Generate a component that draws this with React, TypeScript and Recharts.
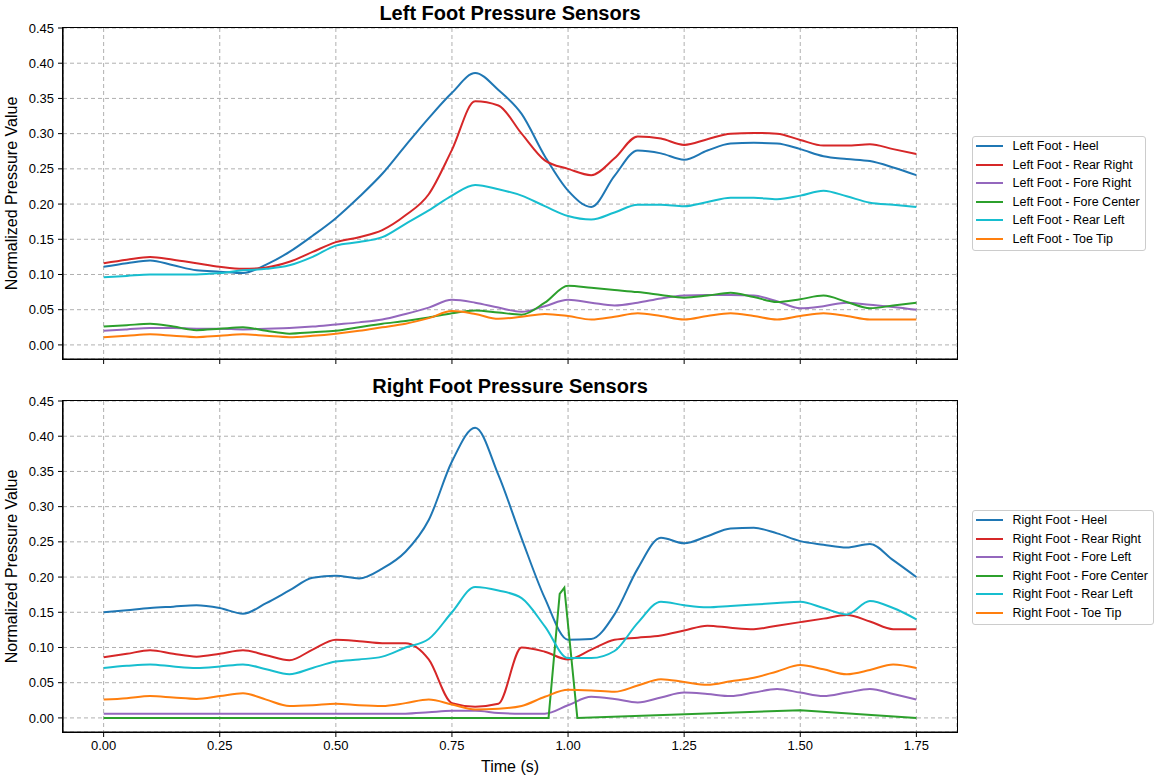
import React from "react";
import { LineChart, Line, XAxis, YAxis, CartesianGrid } from "recharts";

const FONT = '"Liberation Sans", Arial, Helvetica, sans-serif';

// shared sample times (s)
const TIME = [
  0, 0.05, 0.1, 0.15, 0.2, 0.25, 0.3, 0.35, 0.4, 0.45, 0.5, 0.55, 0.6, 0.65, 0.7, 0.75, 0.8, 0.85,
  0.9, 0.95, 1.0, 1.05, 1.1, 1.15, 1.2, 1.25, 1.3, 1.35, 1.4, 1.45, 1.5, 1.55, 1.6, 1.65, 1.7, 1.75,
];

// left foot
const LEFT_HEEL = [
  0.111, 0.116, 0.12, 0.113, 0.106, 0.104, 0.102, 0.114, 0.132, 0.155, 0.18, 0.21, 0.243, 0.283, 0.322, 0.358, 0.386, 0.362,
  0.328, 0.268, 0.219, 0.196, 0.24, 0.276, 0.272, 0.263, 0.276, 0.286, 0.287, 0.286, 0.278, 0.268, 0.264, 0.261, 0.252, 0.241,
];
const LEFT_REAR_RIGHT = [
  0.116, 0.121, 0.125, 0.121, 0.116, 0.111, 0.108, 0.11, 0.118, 0.132, 0.146, 0.153, 0.163, 0.184, 0.214, 0.277, 0.346, 0.34,
  0.3, 0.262, 0.25, 0.241, 0.265, 0.296, 0.293, 0.284, 0.292, 0.3, 0.301, 0.3, 0.291, 0.283, 0.283, 0.285, 0.278, 0.271,
];
const LEFT_FORE_RIGHT = [
  0.02, 0.022, 0.024, 0.024, 0.023, 0.023, 0.022, 0.023, 0.024, 0.026, 0.029, 0.032, 0.036, 0.044, 0.053, 0.064, 0.06, 0.053,
  0.047, 0.055, 0.064, 0.06, 0.056, 0.06, 0.066, 0.07, 0.071, 0.071, 0.07, 0.062, 0.052, 0.055, 0.06, 0.057, 0.054, 0.05,
];
const LEFT_FORE_CENTER = [
  0.026, 0.028, 0.03, 0.026, 0.021, 0.023, 0.025, 0.02, 0.016, 0.018, 0.02, 0.025, 0.03, 0.034, 0.039, 0.045, 0.049, 0.046,
  0.043, 0.06, 0.084, 0.081, 0.078, 0.075, 0.071, 0.067, 0.07, 0.074, 0.068, 0.061, 0.065, 0.07, 0.061, 0.052, 0.056, 0.06,
];
const LEFT_REAR_LEFT = [
  0.096, 0.098, 0.1, 0.1, 0.1, 0.102, 0.106, 0.108, 0.113, 0.125, 0.141, 0.146, 0.153, 0.172, 0.191, 0.212, 0.227, 0.221,
  0.212, 0.197, 0.183, 0.178, 0.188, 0.199, 0.199, 0.197, 0.203, 0.209, 0.209, 0.207, 0.212, 0.219, 0.211, 0.202, 0.199, 0.196,
];
const LEFT_TOE_TIP = [
  0.011, 0.013, 0.015, 0.013, 0.011, 0.013, 0.015, 0.013, 0.011, 0.013, 0.016, 0.02, 0.025, 0.03, 0.038, 0.048, 0.044, 0.037,
  0.04, 0.044, 0.041, 0.036, 0.04, 0.045, 0.041, 0.036, 0.041, 0.045, 0.041, 0.036, 0.041, 0.045, 0.041, 0.036, 0.036, 0.036,
];

// right foot
const RIGHT_HEEL = [
  0.15, 0.153, 0.156, 0.158, 0.16, 0.156, 0.148, 0.163, 0.181, 0.199, 0.202, 0.198, 0.212, 0.236, 0.281, 0.364, 0.412, 0.345,
  0.255, 0.17, 0.111, 0.112, 0.147, 0.212, 0.256, 0.248, 0.258, 0.269, 0.27, 0.262, 0.251, 0.246, 0.242, 0.247, 0.224, 0.2,
];
const RIGHT_REAR_RIGHT = [
  0.086, 0.091, 0.096, 0.091, 0.087, 0.091, 0.096, 0.089, 0.082, 0.097, 0.111, 0.109, 0.106, 0.106, 0.083, 0.021, 0.016, 0.02,
  0.1, 0.094, 0.083, 0.097, 0.111, 0.114, 0.117, 0.124, 0.131, 0.128, 0.126, 0.131, 0.136, 0.141, 0.146, 0.137, 0.126, 0.126,
];
const RIGHT_FORE_LEFT = [
  0.006, 0.006, 0.006, 0.006, 0.006, 0.006, 0.006, 0.006, 0.006, 0.006, 0.006, 0.006, 0.006, 0.006, 0.008, 0.01, 0.01, 0.007,
  0.006, 0.006, 0.018, 0.03, 0.027, 0.022, 0.029, 0.036, 0.034, 0.031, 0.036, 0.041, 0.036, 0.031, 0.036, 0.041, 0.034, 0.026,
];
const RIGHT_FORE_CENTER_TIME = [0, 0.958, 0.982, 0.992, 1.02, 1.5, 1.75];
const RIGHT_FORE_CENTER = [0, 0, 0.176, 0.185, 0, 0.011, 0];
const RIGHT_REAR_LEFT = [
  0.071, 0.074, 0.076, 0.073, 0.071, 0.073, 0.076, 0.069, 0.062, 0.071, 0.08, 0.083, 0.087, 0.1, 0.112, 0.15, 0.186, 0.181,
  0.17, 0.13, 0.085, 0.085, 0.095, 0.135, 0.165, 0.16, 0.157, 0.159, 0.161, 0.163, 0.165, 0.156, 0.147, 0.166, 0.156, 0.14,
];
const RIGHT_TOE_TIP = [
  0.026, 0.028, 0.031, 0.029, 0.027, 0.031, 0.035, 0.026, 0.017, 0.018, 0.02, 0.018, 0.017, 0.021, 0.026, 0.019, 0.012, 0.013,
  0.017, 0.03, 0.04, 0.039, 0.037, 0.046, 0.055, 0.051, 0.047, 0.052, 0.057, 0.066, 0.075, 0.069, 0.062, 0.068, 0.076, 0.071,
];

const X_TICKS = [0, 0.25, 0.5, 0.75, 1.0, 1.25, 1.5, 1.75];
const Y_TICKS = [0, 0.05, 0.1, 0.15, 0.2, 0.25, 0.3, 0.35, 0.4, 0.45];
const X_DOMAIN: [number, number] = [-0.0875, 1.8375];
const Y_DOMAIN: [number, number] = [-0.02, 0.45];

type Series = { name: string; color: string; times: number[]; values: number[]; linear?: boolean };

const LEFT_SERIES: Series[] = [
  { name: "Left Foot - Heel", color: "#1f77b4", times: TIME, values: LEFT_HEEL },
  { name: "Left Foot - Rear Right", color: "#d62728", times: TIME, values: LEFT_REAR_RIGHT },
  { name: "Left Foot - Fore Right", color: "#9467bd", times: TIME, values: LEFT_FORE_RIGHT },
  { name: "Left Foot - Fore Center", color: "#2ca02c", times: TIME, values: LEFT_FORE_CENTER },
  { name: "Left Foot - Rear Left", color: "#17becf", times: TIME, values: LEFT_REAR_LEFT },
  { name: "Left Foot - Toe Tip", color: "#ff7f0e", times: TIME, values: LEFT_TOE_TIP },
];

const RIGHT_SERIES: Series[] = [
  { name: "Right Foot - Heel", color: "#1f77b4", times: TIME, values: RIGHT_HEEL },
  { name: "Right Foot - Rear Right", color: "#d62728", times: TIME, values: RIGHT_REAR_RIGHT },
  { name: "Right Foot - Fore Left", color: "#9467bd", times: TIME, values: RIGHT_FORE_LEFT },
  {
    name: "Right Foot - Fore Center",
    color: "#2ca02c",
    times: RIGHT_FORE_CENTER_TIME,
    values: RIGHT_FORE_CENTER,
    linear: true,
  },
  { name: "Right Foot - Rear Left", color: "#17becf", times: TIME, values: RIGHT_REAR_LEFT },
  { name: "Right Foot - Toe Tip", color: "#ff7f0e", times: TIME, values: RIGHT_TOE_TIP },
];

const toPoints = (times: number[], values: number[]) => times.map((t, i) => ({ t, v: values[i] }));

function LegendBox({ series, top }: { series: Series[]; top: number }) {
  return (
    <div
      style={{
        position: "absolute",
        left: 972,
        top,
        border: "1px solid #cccccc",
        borderRadius: 3,
        background: "#fff",
        padding: "0 5px 2px 2px",
        fontSize: 12.5,
        color: "#000",
        whiteSpace: "nowrap",
      }}
    >
      {series.map((s) => (
        <div key={s.name} style={{ display: "flex", alignItems: "center", height: 18.5 }}>
          <span style={{ display: "inline-block", width: 27, height: 2, background: s.color, marginLeft: 1 }} />
          <span style={{ marginLeft: 9.5 }}>{s.name}</span>
        </div>
      ))}
    </div>
  );
}

function Panel({
  title,
  series,
  top,
  bottom,
  legendTop,
}: {
  title: string;
  series: Series[];
  top: number;
  bottom: boolean;
  legendTop: number;
}) {
  const height = bottom ? 406 : 370;
  return (
    <div style={{ position: "absolute", left: 0, top, width: 1162, height }}>
      <div
        style={{
          position: "absolute",
          left: 63,
          width: 894,
          top: 1,
          textAlign: "center",
          fontSize: 20,
          lineHeight: "24px",
          fontWeight: "bold",
          color: "#000",
        }}
      >
        {title}
      </div>
      <LineChart width={960} height={height} margin={{ top: 28, right: 3, bottom: 0, left: 0 }}>
        <CartesianGrid stroke="#b0b0b0" strokeDasharray="4 3" strokeWidth={1} />
        <XAxis
          dataKey="t"
          type="number"
          domain={X_DOMAIN}
          ticks={X_TICKS}
          allowDataOverflow
          height={bottom ? 47 : 11}
          tick={{ fontSize: 13, fill: "#000" }}
          // the upper panel shares the time axis: tick marks only, no labels
          tickFormatter={(v: number) => (bottom ? v.toFixed(2) : "")}
          tickSize={5}
          tickMargin={4}
          stroke="#000"
          axisLine={{ stroke: "#000", strokeWidth: 1.2 }}
          tickLine={{ stroke: "#000" }}
          label={
            bottom
              ? { value: "Time (s)", position: "insideBottom", offset: 7, style: { fontSize: 16, fill: "#000" } }
              : undefined
          }
        />
        <YAxis
          type="number"
          domain={Y_DOMAIN}
          ticks={Y_TICKS}
          allowDataOverflow
          width={63}
          tick={{ fontSize: 13, fill: "#000" }}
          tickFormatter={(v: number) => v.toFixed(2)}
          tickSize={5}
          tickMargin={4}
          axisLine={{ stroke: "#000", strokeWidth: 1.2 }}
          tickLine={{ stroke: "#000" }}
          label={{
            value: "Normalized Pressure Value",
            angle: -90,
            position: "insideLeft",
            offset: 11,
            style: { textAnchor: "middle", fontSize: 16, fill: "#000" },
          }}
        />
        {series.map((s) => (
          <Line
            key={s.name}
            data={toPoints(s.times, s.values)}
            dataKey="v"
            name={s.name}
            type={s.linear ? "linear" : "monotone"}
            stroke={s.color}
            strokeWidth={2}
            dot={false}
            activeDot={false}
            isAnimationActive={false}
          />
        ))}
      </LineChart>
      {/* full frame round the plot area, like the reference's four spines */}
      <div
        style={{
          position: "absolute",
          left: 62.4,
          top: 27.4,
          width: 895.2,
          height: 332.2,
          border: "1.2px solid #000",
          boxSizing: "border-box",
          pointerEvents: "none",
        }}
      />
      <LegendBox series={series} top={legendTop} />
    </div>
  );
}

export default function App() {
  return (
    <div
      style={{
        position: "absolute",
        left: 0,
        top: 0,
        width: 1162,
        height: 779,
        background: "#fff",
        fontFamily: FONT,
      }}
    >
      <Panel title="Left Foot Pressure Sensors" series={LEFT_SERIES} top={0} bottom={false} legendTop={136} />
      <Panel title="Right Foot Pressure Sensors" series={RIGHT_SERIES} top={373} bottom={true} legendTop={137} />
    </div>
  );
}
